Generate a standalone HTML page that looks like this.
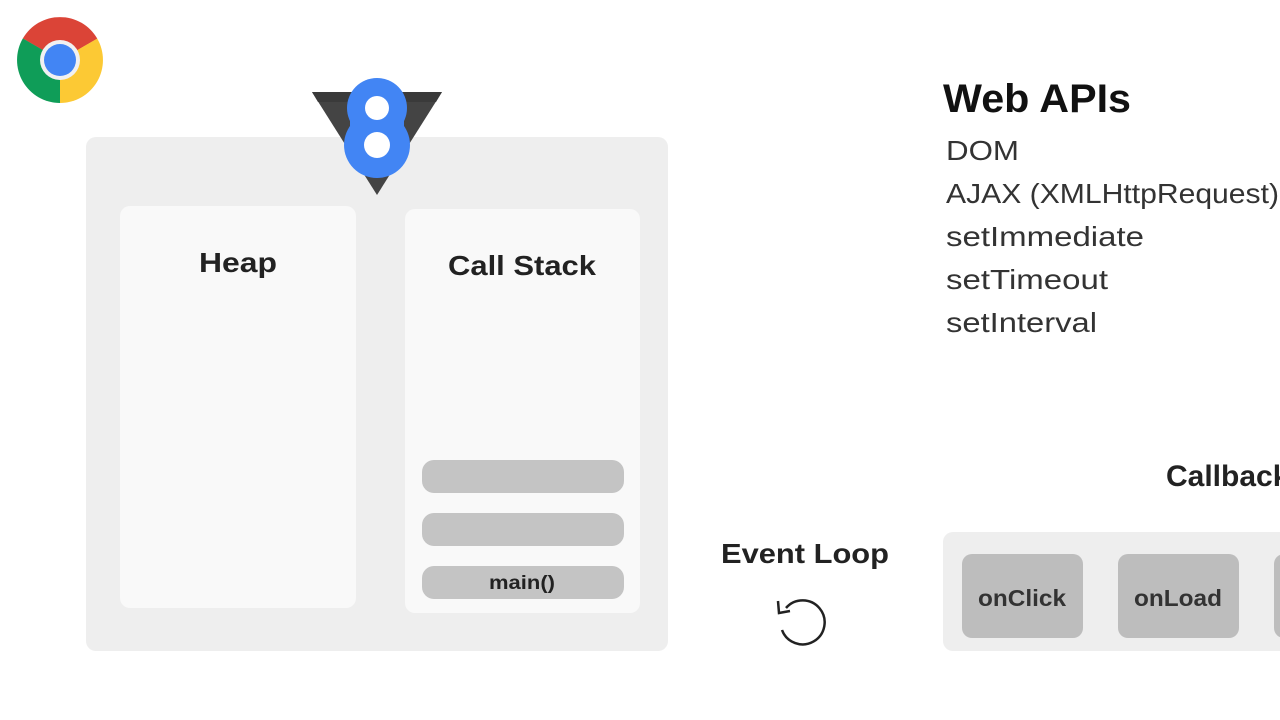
<!DOCTYPE html>
<html><head><meta charset="utf-8"><style>
html,body{margin:0;padding:0;background:#fff;}
svg{display:block;font-family:"Liberation Sans",sans-serif;}
</style></head><body>
<svg width="1280" height="720" viewBox="0 0 1280 720" xmlns="http://www.w3.org/2000/svg">
<rect width="1280" height="720" fill="#fff"/>
<!-- Chrome logo -->
<g transform="translate(60,60)">
  <path d="M0,0 L-37.2,-21.5 A43,43 0 0 1 37.2,-21.5 Z" fill="#db4437"/>
  <path d="M0,0 L37.2,-21.5 A43,43 0 0 1 0,43 Z" fill="#fcc934"/>
  <path d="M0,0 L0,43 A43,43 0 0 1 -37.2,-21.5 Z" fill="#0f9d58"/>
  <path d="M0,-18 L37.2,-21.5 L0,0Z" fill="#db4437"/>
  <path d="M15.6,9 L0,43 L0,0Z" fill="#fcc934"/>
  <path d="M-15.6,9 L-37.2,-21.5 L0,0Z" fill="#0f9d58"/>
  <circle r="20" fill="#f1f1f1"/>
  <circle r="16" fill="#4285f4"/>
</g>
<!-- engine box -->
<rect x="86" y="137" width="582" height="514" rx="10" fill="#eeeeee"/>
<rect x="120" y="206" width="236" height="402" rx="10" fill="#f9f9f9"/>
<rect x="405" y="209" width="235" height="404" rx="10" fill="#f9f9f9"/>
<text x="238" y="272" text-anchor="middle" font-size="28" font-weight="bold" fill="#222" textLength="78" lengthAdjust="spacingAndGlyphs">Heap</text>
<text x="522" y="275" text-anchor="middle" font-size="28" font-weight="bold" fill="#222" textLength="148" lengthAdjust="spacingAndGlyphs">Call Stack</text>
<rect x="422" y="460" width="202" height="33" rx="12" fill="#c4c4c4"/>
<rect x="422" y="513" width="202" height="33" rx="12" fill="#c4c4c4"/>
<rect x="422" y="566" width="202" height="33" rx="12" fill="#c4c4c4"/>
<text x="522" y="589" text-anchor="middle" font-size="19" font-weight="bold" fill="#222" textLength="66" lengthAdjust="spacingAndGlyphs">main()</text>
<!-- V8 logo -->
<polygon points="312,92 442,92 377,195" fill="#444"/>
<polygon points="312,92 442,92 436,102 318,102" fill="#3a3a3a"/>
<circle cx="377" cy="108" r="30" fill="#4285f4"/>
<circle cx="377" cy="145" r="33" fill="#4285f4"/>
<rect x="350" y="108" width="54" height="37" fill="#4285f4"/>
<circle cx="377" cy="108" r="12" fill="#fff"/>
<circle cx="377" cy="145" r="13" fill="#fff"/>
<!-- Web APIs -->
<text x="943" y="112" font-size="40" font-weight="bold" fill="#111" textLength="188" lengthAdjust="spacingAndGlyphs">Web APIs</text>
<g font-size="28" fill="#333">
<text x="946" y="160" textLength="73" lengthAdjust="spacingAndGlyphs">DOM</text>
<text x="946" y="203" textLength="333" lengthAdjust="spacingAndGlyphs">AJAX (XMLHttpRequest)</text>
<text x="946" y="246" textLength="198" lengthAdjust="spacingAndGlyphs">setImmediate</text>
<text x="946" y="289" textLength="162" lengthAdjust="spacingAndGlyphs">setTimeout</text>
<text x="946" y="332" textLength="151" lengthAdjust="spacingAndGlyphs">setInterval</text>
</g>
<text x="1166" y="486" font-size="30" font-weight="bold" fill="#222">Callback Queue</text>
<!-- Event loop -->
<text x="805" y="563" text-anchor="middle" font-size="28" font-weight="bold" fill="#222" textLength="168" lengthAdjust="spacingAndGlyphs">Event Loop</text>
<path d="M786,608 A22,22 0 1 1 782,630" fill="none" stroke="#222" stroke-width="2.5"/>
<path d="M778,601 L779,613 L790,611" fill="none" stroke="#222" stroke-width="2.5"/>
<!-- Callback queue -->
<rect x="943" y="532" width="360" height="119" rx="10" fill="#eeeeee"/>
<rect x="962" y="554" width="121" height="84" rx="10" fill="#bdbdbd"/>
<rect x="1118" y="554" width="121" height="84" rx="10" fill="#bdbdbd"/>
<rect x="1274" y="554" width="121" height="84" rx="10" fill="#bdbdbd"/>
<text x="1022" y="606" text-anchor="middle" font-size="23" font-weight="bold" fill="#333" textLength="88" lengthAdjust="spacingAndGlyphs">onClick</text>
<text x="1178" y="606" text-anchor="middle" font-size="23" font-weight="bold" fill="#333" textLength="88" lengthAdjust="spacingAndGlyphs">onLoad</text>
</svg>
</body></html>
